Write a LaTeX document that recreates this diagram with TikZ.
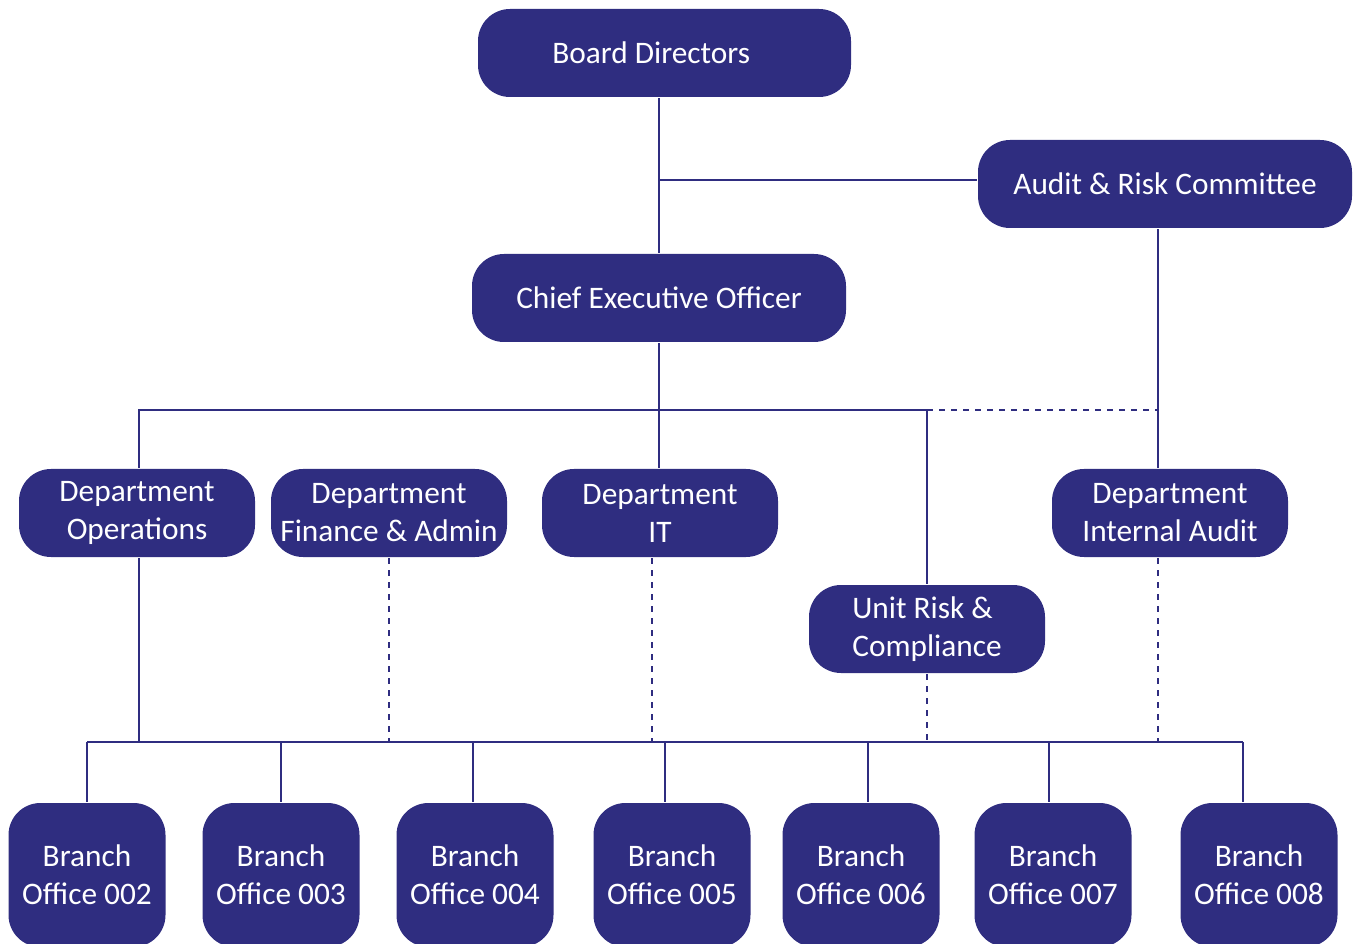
\documentclass[tikz,border=0pt]{standalone}
\usepackage{fontspec}
\setmainfont{Carlito}
\definecolor{navy}{RGB}{47,45,128}

\tikzset{every picture/.style={line width=2.2pt}}
\tikzset{
  orgbox/.style={draw=none, fill=navy, text=white, rounded corners=24pt, inner sep=0pt, align=center, font=\fontsize{23.5}{28.5}\selectfont, minimum height=66pt},
  widebox/.style={orgbox, minimum width=280.5pt},
  deptbox/.style={orgbox, minimum width=177pt},
  branchbox/.style={orgbox, minimum width=117.75pt, minimum height=108pt},
  link/.style={draw=navy, line width=2.2pt},
  dotlink/.style={link, dash pattern={on 4.5pt off 4.5pt}}
}

\begin{document}
\begin{tikzpicture}[x=0.75pt,y=0.75pt,yscale=-1,xscale=1]
\useasboundingbox (0,0) rectangle (1360,944);
\clip (0,0) rectangle (1360,944);

%Shape: Rounded Rect [id:board]
\node (board) [widebox, minimum width=279.75pt] at (664.5,53) {Board Directors\hspace*{20pt}};
%Shape: Rounded Rect [id:audit]
\node (audit) [widebox] at (1165,184) {Audit \& Risk Committee};
%Shape: Rounded Rect [id:ceo]
\node (ceo) [widebox] at (659,298) {Chief Executive Officer};

%Departments
\node (ops) [deptbox] at (137,513) {Department\\Operations};
\node (fin) [deptbox] at (389,513) {Department\\Finance \& Admin};
\node (it) [deptbox] at (660,513) {Department\\IT};
\node (risk) [deptbox, align=left] at (927,629) {Unit Risk \&\\Compliance};
\node (intaudit) [deptbox] at (1170,513) {Department\\Internal Audit};

%Branch offices
\foreach \n/\x in {002/87, 003/281, 004/475, 005/672, 006/861, 007/1053, 008/1259}
  \node (b\n) [branchbox] at (\x,875) {Branch\\Office \n};

%Bus lines
\coordinate (topbus) at (0,410);
\coordinate (lowbus) at (0,742);
\coordinate (iaud) at (1158,410);

%Straight Lines: top level
\draw [link] (ceo.north |- board.south) -- (ceo.north);
\draw [link] ([yshift=-3pt]ceo.north |- audit.west) -- ([yshift=-3pt]audit.west);
\draw [link] (ceo.south) -- (ceo.south |- it.north);
\draw [link] (audit.south -| iaud) -- (intaudit.north -| iaud);

%Straight Lines: department bus
\draw [link] ([xshift=1.5pt]ops.north) -- ([xshift=1.5pt]ops.north |- topbus) -- (risk.north |- topbus);
\draw [link] (risk.north |- topbus) -- (risk.north);
\draw [dotlink] (risk.north |- topbus) -- (iaud);

%Straight Lines: down to branches
\draw [link] ([xshift=1.5pt]ops.south) -- ([xshift=1.5pt]ops.south |- lowbus);
\draw [dotlink] (fin.south) -- (fin.south |- lowbus);
\draw [dotlink] ([xshift=-6pt]it.south) -- ([xshift=-6pt]it.south |- lowbus);
\draw [dotlink] (risk.south) -- (risk.south |- lowbus);
\draw [dotlink] (intaudit.south -| iaud) -- (iaud |- lowbus);
\draw [link] (b002.north |- lowbus) -- ([xshift=-12pt]b008.north |- lowbus);
\foreach \n/\d in {002/0, 003/0, 004/-2, 005/-7, 006/7, 007/-4, 008/-16}
  \draw [link] ([xshift=\d*0.75pt]b\n.north) -- ([xshift=\d*0.75pt]b\n.north |- lowbus);

\end{tikzpicture}
\end{document}
